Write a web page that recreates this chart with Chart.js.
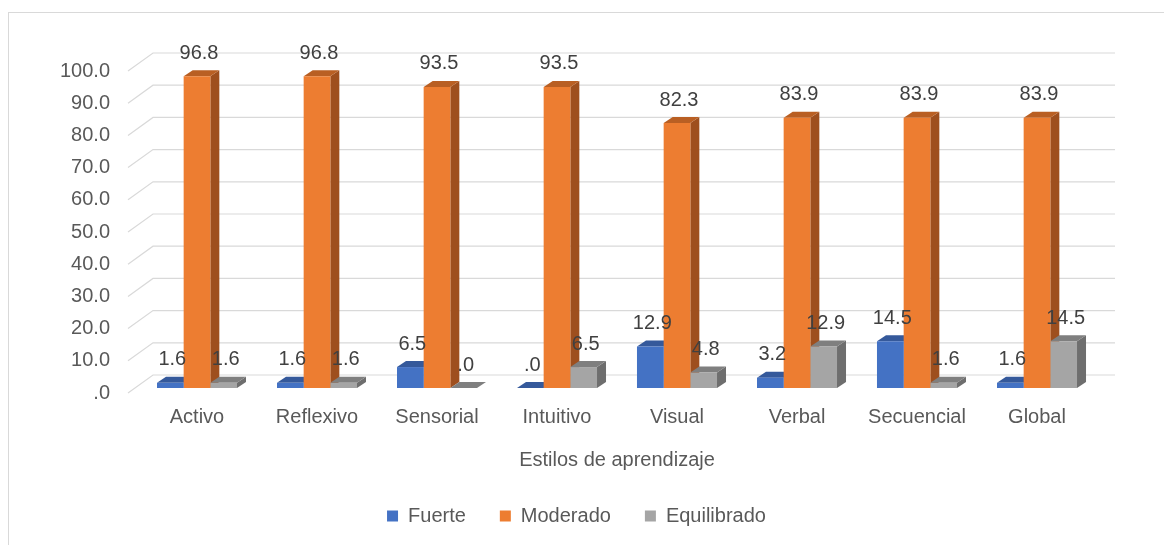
<!DOCTYPE html>
<html>
<head>
    <meta charset="utf-8">
    <title>Estilos de aprendizaje</title>
    <script src="https://cdn.jsdelivr.net/npm/chart.js"></script>
    <style>
        body { margin: 0; background: #fff; font-family: "Liberation Sans", Arial, sans-serif; }
        #wrap { position: relative; width: 1164px; height: 545px; overflow: hidden; }
        #frame { position: absolute; left: 8px; top: 12px; width: 1200px; height: 600px; border: 1px solid #d9d9d9; }
        #box { position: absolute; left: 0; top: 0; width: 1164px; height: 545px; }
    </style>
</head>
<body>
<div id="wrap">
    <div id="frame"></div>
    <div id="box"><canvas id="chart"></canvas></div>
</div>

<script>
    // datos
    var categorias = ['Activo', 'Reflexivo', 'Sensorial', 'Intuitivo', 'Visual', 'Verbal', 'Secuencial', 'Global'];
    var fuerte = [1.6, 1.6, 6.5, 0, 12.9, 3.2, 14.5, 1.6];
    var moderado = [96.8, 96.8, 93.5, 93.5, 82.3, 83.9, 83.9, 83.9];
    var equilibrado = [1.6, 1.6, 0, 6.5, 4.8, 12.9, 1.6, 14.5];
    var ejeY = { min: 0, max: 100, paso: 10 };

    // colores: frente, lateral, superior
    var colores = [
        ['#4472C4', '#2F5597', '#35599B'],
        ['#ED7D31', '#9E4F1E', '#B95F23'],
        ['#A5A5A5', '#6E6E6E', '#7F7F7F']
    ];

    var fuente = '"Liberation Sans", Arial, sans-serif';

    function fmt(v) {
        return v === 0 ? '.0' : v.toFixed(1);
    }

    var DX = 9, DY = 6;

    // cuadricula "3D" y caras laterales de las barras
    var efecto3d = {
        id: 'efecto3d',
        beforeDatasetsDraw: function(chart) {
            var ctx = chart.ctx;
            var area = chart.chartArea;
            var y = chart.scales.y;
            ctx.save();
            ctx.strokeStyle = '#d9d9d9';
            ctx.lineWidth = 1.2;
            y.ticks.forEach(function(t) {
                var py = y.getPixelForValue(t.value);
                ctx.beginPath();
                ctx.moveTo(area.left - 9, py + 5);
                ctx.lineTo(area.left + 16, py - 13);
                ctx.lineTo(area.right + 18, py - 13);
                ctx.stroke();
            });
            chart.data.datasets.forEach(function(ds, i) {
                var meta = chart.getDatasetMeta(i);
                meta.data.forEach(function(el) {
                    var l = el.x - el.width / 2, r = el.x + el.width / 2;
                    ctx.fillStyle = colores[i][1];
                    ctx.beginPath();
                    ctx.moveTo(r, el.y);
                    ctx.lineTo(r + DX, el.y - DY);
                    ctx.lineTo(r + DX, el.base - DY);
                    ctx.lineTo(r, el.base);
                    ctx.closePath();
                    ctx.fill();
                    ctx.fillStyle = colores[i][2];
                    ctx.beginPath();
                    ctx.moveTo(l, el.y);
                    ctx.lineTo(l + DX, el.y - DY);
                    ctx.lineTo(r + DX, el.y - DY);
                    ctx.lineTo(r, el.y);
                    ctx.closePath();
                    ctx.fill();
                });
            });
            ctx.restore();
        },
        afterDatasetsDraw: function(chart) {
            var ctx = chart.ctx;
            ctx.save();
            ctx.font = '20px ' + fuente;
            ctx.fillStyle = '#404040';
            ctx.textAlign = 'center';
            ctx.textBaseline = 'middle';
            chart.data.datasets.forEach(function(ds, i) {
                var meta = chart.getDatasetMeta(i);
                meta.data.forEach(function(el, j) {
                    ctx.fillText(fmt(ds.data[j]), el.x + 2, el.y - 23);
                });
            });
            ctx.restore();
        }
    };

    var ctx = document.getElementById('chart').getContext('2d');
    var grafico = new Chart(ctx, {
        type: 'bar',
        data: {
            labels: categorias,
            datasets: [
                { label: 'Fuerte', data: fuerte, backgroundColor: colores[0][0] },
                { label: 'Moderado', data: moderado, backgroundColor: colores[1][0] },
                { label: 'Equilibrado', data: equilibrado, backgroundColor: colores[2][0] }
            ]
        },
        options: {
            responsive: true,
            maintainAspectRatio: false,
            animation: false,
            datasets: {
                bar: { categoryPercentage: 0.667, barPercentage: 1.0, clip: false }
            },
            layout: {
                padding: { left: 56, right: 67, top: 66, bottom: 9 }
            },
            plugins: {
                legend: {
                    position: 'bottom',
                    labels: {
                        boxWidth: 11,
                        boxHeight: 11,
                        padding: 34,
                        color: '#595959',
                        font: { size: 20, family: fuente }
                    }
                },
                tooltip: { enabled: false }
            },
            scales: {
                x: {
                    grid: { display: false },
                    border: { display: false },
                    ticks: {
                        color: '#595959',
                        padding: 9,
                        font: { size: 20, family: fuente }
                    },
                    title: {
                        display: true,
                        text: 'Estilos de aprendizaje',
                        color: '#595959',
                        padding: { top: 10, bottom: 0 },
                        font: { size: 20, family: fuente }
                    }
                },
                y: {
                    min: ejeY.min,
                    max: ejeY.max,
                    grid: { display: false, drawTicks: false },
                    border: { display: false },
                    afterFit: function(scale) { scale.width = 81; },
                    ticks: {
                        stepSize: ejeY.paso,
                        padding: 27,
                        labelOffset: 5,
                        color: '#595959',
                        font: { size: 20, family: fuente },
                        callback: function(v) { return fmt(v); }
                    }
                }
            }
        },
        plugins: [efecto3d]
    });
</script>
</body>
</html>
